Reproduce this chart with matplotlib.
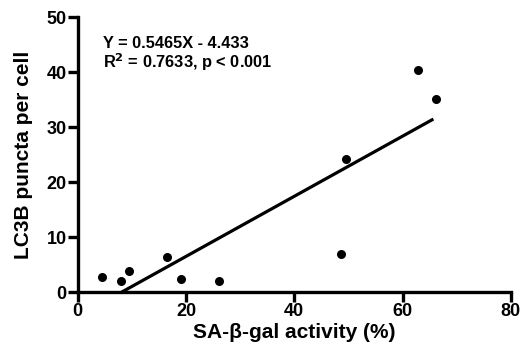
import matplotlib
matplotlib.use("Agg")
import matplotlib.pyplot as plt
import numpy as np

plt.rcParams['font.family'] = ['Liberation Sans', 'DejaVu Sans']
plt.rcParams['font.weight'] = 'bold'

# values
sa_gal = [4.4, 7.9, 9.4, 16.5, 19.1, 26.1, 48.7, 49.5, 62.9, 66.2]
lc3b = [2.8, 2.1, 3.9, 6.4, 2.4, 2.0, 7.0, 24.3, 40.4, 35.2]
slope = 0.5465
intercept = -4.433
x_ticks = [0, 20, 40, 60, 80]
y_ticks = [0, 10, 20, 30, 40, 50]

fig = plt.figure(figsize=(5.22, 3.58), dpi=100)
ax = fig.add_axes([0.149, 0.184, 0.8295, 0.768])

ax.scatter(sa_gal, lc3b, s=30, color='black', zorder=3, clip_on=False)

fit_x = np.array([min(sa_gal), max(sa_gal) - 0.5])
fit_y = slope * fit_x + intercept
ax.plot(fit_x, fit_y, color='black', lw=2.3, solid_capstyle='butt')

ax.set_xlim(0, 80)
ax.set_ylim(0, 50)
ax.set_xticks(x_ticks)
ax.set_yticks(y_ticks)

for side in ['top', 'right']:
    ax.spines[side].set_visible(False)
for side in ['left', 'bottom']:
    ax.spines[side].set_linewidth(2.4)
ax.tick_params(width=2.4, length=7, labelsize=13, pad=1, direction='out')
for lab in ax.get_xticklabels() + ax.get_yticklabels():
    lab.set_fontweight('bold')

ax.set_xlabel('SA-β-gal activity (%)', fontsize=15, fontweight='bold', labelpad=2)
ax.set_ylabel('LC3B puncta per cell', fontsize=15, fontweight='bold', labelpad=10)

ax.text(0.058, 0.905, 'Y = 0.5465X - 4.433', transform=ax.transAxes,
        fontsize=11.8, fontweight='bold', va='center', ha='left')
ax.text(0.058, 0.836, 'R$^{\\mathbf{2}}$ = 0.7633, p < 0.001', transform=ax.transAxes,
        fontsize=11.8, fontweight='bold', va='center', ha='left')

fig.savefig('out.png', dpi=100)
